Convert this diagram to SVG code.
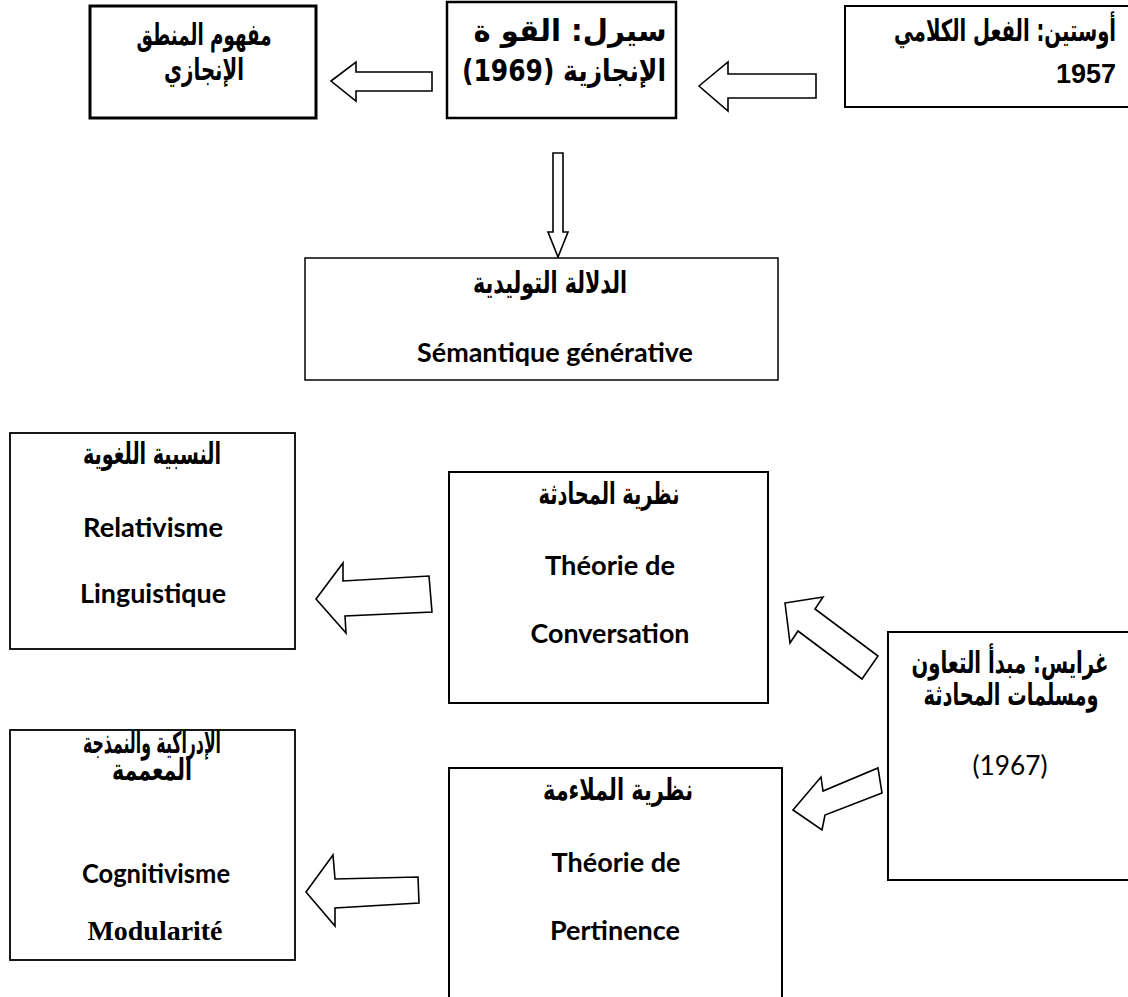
<svg xmlns="http://www.w3.org/2000/svg" width="1128" height="997" viewBox="0 0 1128 997">
<style>
.box{fill:#fff;stroke:#000}
.ar{font-family:"DejaVu Sans",sans-serif;font-weight:bold;font-size:30px;fill:#000;direction:rtl;text-anchor:middle}
.fr{font-family:Lato,"Open Sans",sans-serif;font-weight:bold;font-size:26px;fill:#000;text-anchor:middle}
.num{font-family:"Liberation Sans",Arial,sans-serif;font-weight:bold;font-size:27px;fill:#000;text-anchor:end}
.reg{font-family:Lato,"Open Sans",sans-serif;font-size:26px;fill:#000;text-anchor:middle}
.serif{font-family:"Liberation Serif","Times New Roman",serif;font-weight:bold;font-size:28px;fill:#000;text-anchor:middle}
.arrow{fill:#fff;stroke:#000;stroke-width:1.6;stroke-linejoin:miter}
</style>
<rect width="1128" height="997" fill="#fff"/>
<g id="connectors">
<polygon class="arrow" points="331,81 356,62 356,72 432,72 432,91 356,91 356,101"/>
<polygon class="arrow" points="699,86 728,62 728,74 816,74 816,98 728,98 728,111"/>
<polygon class="arrow" points="553,153 563,153 563,232 568,232 558,257 548,232 553,232"/>
<polygon class="arrow" points="316,599 343,563 343,581 429,576 432,612 345,616 346,633"/>
<polygon class="arrow" points="785,603 823,597 815,609 878,656 862,679 798,631 790,643"/>
<polygon class="arrow" points="793,810 821,777 823,791 878,768 882,793 825,815 822,830"/>
<polygon class="arrow" points="306,892 333,855 335,879 418,877 419,903 335,908 335,926"/>
</g>
<g id="n-mafhoum">
<rect class="box" x="90" y="6" width="226" height="112" stroke-width="3"/>
<text class="ar" x="204" y="45" textLength="135" lengthAdjust="spacingAndGlyphs">مفهوم المنطق</text>
<text class="ar" x="204" y="80" textLength="80" lengthAdjust="spacingAndGlyphs">الإنجازي</text>
</g>
<g id="n-searle">
<rect class="box" x="447" y="2" width="229" height="116" stroke-width="2.5"/>
<text class="ar" x="570" y="41" textLength="193" lengthAdjust="spacingAndGlyphs">سيرل: القو ة</text>
<text class="ar" x="564" y="81" textLength="204" lengthAdjust="spacingAndGlyphs">الإنجازية (1969)</text>
</g>
<g id="n-austin">
<rect class="box" x="845" y="6" width="290" height="101" stroke-width="2"/>
<text class="ar" x="1005" y="41" textLength="222" lengthAdjust="spacingAndGlyphs">أوستين: الفعل الكلامي</text>
<text class="num" x="1116" y="83">1957</text>
</g>
<g id="n-semantique">
<rect class="box" x="305" y="258" width="473" height="122" stroke-width="1.5"/>
<text class="ar" x="550" y="293" textLength="154" lengthAdjust="spacingAndGlyphs">الدلالة التوليدية</text>
<text class="fr" x="555" y="362" textLength="276" lengthAdjust="spacingAndGlyphs">Sémantique générative</text>
</g>
<g id="n-relativisme">
<rect class="box" x="10" y="433" width="285" height="216" stroke-width="1.8"/>
<text class="ar" x="152" y="464" textLength="138" lengthAdjust="spacingAndGlyphs">النسبية اللغوية</text>
<text class="fr" x="153" y="537" textLength="140" lengthAdjust="spacingAndGlyphs">Relativisme</text>
<text class="fr" x="153" y="603" textLength="146" lengthAdjust="spacingAndGlyphs">Linguistique</text>
</g>
<g id="n-conversation">
<rect class="box" x="449" y="472" width="319" height="231" stroke-width="2"/>
<text class="ar" x="609" y="504" textLength="141" lengthAdjust="spacingAndGlyphs">نظرية المحادثة</text>
<text class="fr" x="610" y="575" textLength="130" lengthAdjust="spacingAndGlyphs">Théorie de</text>
<text class="fr" x="610" y="643" textLength="159" lengthAdjust="spacingAndGlyphs">Conversation</text>
</g>
<g id="n-grice">
<rect class="box" x="888" y="632" width="247" height="248" stroke-width="2"/>
<text class="ar" x="1010" y="673" textLength="197" lengthAdjust="spacingAndGlyphs">غرايس: مبدأ التعاون</text>
<text class="ar" x="1011" y="705" textLength="175" lengthAdjust="spacingAndGlyphs">ومسلمات المحادثة</text>
<text class="reg" x="1010" y="775" textLength="75" lengthAdjust="spacingAndGlyphs">(1967)</text>
</g>
<g id="n-pertinence">
<rect class="box" x="449" y="768" width="333" height="240" stroke-width="2"/>
<text class="ar" x="618" y="800" textLength="150" lengthAdjust="spacingAndGlyphs">نظرية الملاءمة</text>
<text class="fr" x="616" y="872" textLength="129" lengthAdjust="spacingAndGlyphs">Théorie de</text>
<text class="fr" x="615" y="940" textLength="130" lengthAdjust="spacingAndGlyphs">Pertinence</text>
</g>
<g id="n-cognitivisme">
<rect class="box" x="10" y="730" width="285" height="230" stroke-width="1.8"/>
<text class="ar" x="152" y="753" textLength="138" lengthAdjust="spacingAndGlyphs">الإدراكية والنمذجة</text>
<text class="ar" x="152" y="780" textLength="80" lengthAdjust="spacingAndGlyphs">المعممة</text>
<text class="fr" x="156" y="883" textLength="148" lengthAdjust="spacingAndGlyphs">Cognitivisme</text>
<text class="serif" x="155" y="940" textLength="135" lengthAdjust="spacingAndGlyphs">Modularité</text>
</g>
</svg>
